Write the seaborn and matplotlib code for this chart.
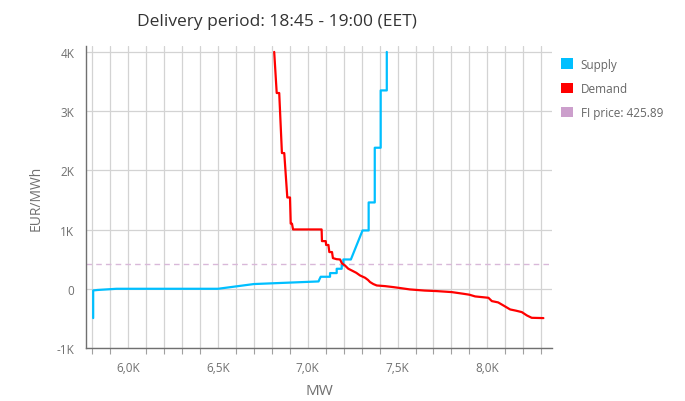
import matplotlib
matplotlib.use("Agg")
import matplotlib.pyplot as plt
import matplotlib.ticker as mticker
from matplotlib.patches import Patch
import seaborn as sns
import pandas as pd

# ---- data ----
supply_mw = [5805, 5805, 5830, 5935, 6500, 6550, 6640, 6700, 7060, 7065, 7072, 7124, 7124,
             7161, 7161, 7189, 7189, 7198, 7198, 7240, 7305, 7339, 7339, 7373, 7373,
             7406, 7406, 7440, 7440]
supply_price = [-495, -28, -20, 0, 0, 20, 56, 80, 124, 160, 203, 203, 265,
                265, 338, 338, 394, 394, 495, 495, 985, 985, 1458, 1458, 2382,
                2382, 3350, 3350, 4000]

demand_mw = [6813, 6827, 6841, 6856, 6869, 6886, 6901, 6905, 6912, 6918, 7077, 7079, 7100,
             7102, 7115, 7120, 7135, 7140, 7160, 7180, 7190, 7207, 7225, 7245, 7270,
             7291, 7319, 7335, 7347, 7365, 7384, 7430, 7477, 7520, 7569, 7650, 7718,
             7802, 7866, 7900, 7932, 8006, 8025, 8060, 8089, 8127, 8160, 8192, 8220,
             8247, 8312]
demand_price = [4000, 3306, 3306, 2292, 2292, 1542, 1542, 1100, 1100, 1002, 1002, 805, 805,
                740, 740, 620, 620, 518, 500, 495, 430, 394, 340, 309, 270,
                225, 186, 150, 113, 80, 56, 45, 28, 10, -11, -30, -39,
                -56, -84, -100, -129, -152, -208, -230, -281, -349, -370, -394, -450,
                -490, -495]

fi_price = 425.89
title = "Delivery period: 18:45 - 19:00 (EET)"

# ---- style ----
sns.set_theme(style="white")
plt.rcParams['font.family'] = ['Open Sans', 'DejaVu Sans']

fig = plt.figure(figsize=(6.85, 4.02), dpi=100)
ax = fig.add_axes([86/685, 53/402, 466/685, 302/402])

sup = pd.DataFrame({"MW": supply_mw, "price": supply_price})
dem = pd.DataFrame({"MW": demand_mw, "price": demand_price})

sns.lineplot(data=sup, x="MW", y="price", sort=False, estimator=None,
             color="#00bfff", linewidth=1.6, ax=ax)
sns.lineplot(data=dem, x="MW", y="price", sort=False, estimator=None,
             color="#ff0000", linewidth=1.6, ax=ax)
ax.axhline(fi_price, color="#d9b8d9", linestyle=(0, (4, 3)), linewidth=1.0, zorder=1)

ax.set_xlim(5765, 8360)
ax.set_ylim(-1000, 4100)

ax.xaxis.set_major_locator(mticker.MultipleLocator(500))
ax.xaxis.set_minor_locator(mticker.MultipleLocator(100))
ax.yaxis.set_major_locator(mticker.MultipleLocator(1000))
ax.xaxis.set_major_formatter(mticker.FuncFormatter(
    lambda v, p: f"{v/1000:.1f}K".replace('.', ',')))
ax.yaxis.set_major_formatter(mticker.FuncFormatter(
    lambda v, p: "0" if abs(v) < 1e-9 else f"{int(round(v/1000))}K"))

ax.grid(True, which="both", axis="x", color="#d3d3d3", linewidth=0.9)
ax.grid(True, which="major", axis="y", color="#d3d3d3", linewidth=0.9)
ax.set_axisbelow(True)

for s in ["top", "right"]:
    ax.spines[s].set_visible(False)
for s in ["left", "bottom"]:
    ax.spines[s].set_color("#707070")
    ax.spines[s].set_linewidth(1.0)

ax.tick_params(axis="both", which="major", length=6, width=1, color="#707070",
               labelcolor="#707070", labelsize=8.5, direction="out")
ax.tick_params(axis="x", which="minor", length=4, width=0.8, color="#a0a0a0",
               direction="out", bottom=True)
ax.tick_params(axis="y", which="major", length=5)

ax.set_xlabel("MW", color="#707070", fontsize=11, labelpad=6)
ax.set_ylabel("EUR/MWh", color="#707070", fontsize=10, labelpad=9)

fig.text(277/685, 1 - 22/402, title, ha="center", va="center",
         fontsize=12.5, color="#333333")

handles = [Patch(facecolor="#00bfff", edgecolor="none", label="Supply"),
           Patch(facecolor="#ff0000", edgecolor="none", label="Demand"),
           Patch(facecolor="#cc9fcc", edgecolor="none", label=f"FI price: {fi_price}")]
fig.legend(handles=handles, loc="upper left", bbox_to_anchor=(556/685, 1 - 54/402),
           frameon=False, handlelength=1.0, handleheight=1.0, handletextpad=0.7,
           labelspacing=0.95, fontsize=8.5, labelcolor="#666666", borderaxespad=0)

fig.savefig("out.png", dpi=100)
